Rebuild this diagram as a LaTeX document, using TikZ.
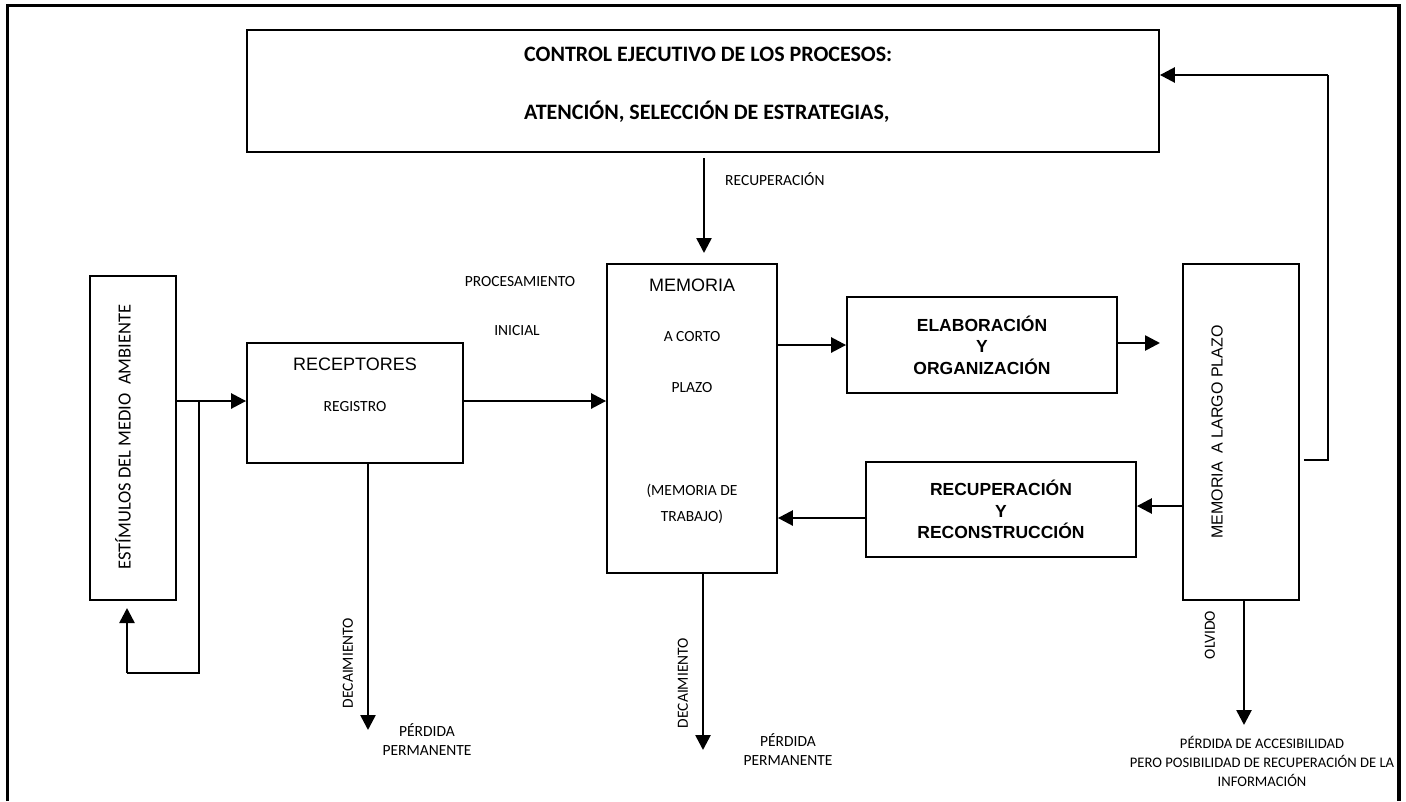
\documentclass[tikz,border=0pt]{standalone}
\usepackage{fontspec}
\setmainfont{Carlito}
\newfontfamily\arialf{Liberation Sans}
\usetikzlibrary{arrows.meta}
\newcommand\smtxt{\fontsize{15.5}{19}\selectfont}
\newcommand\bigarial{\arialf\fontsize{18}{22}\selectfont}
\newcommand\boldarial{\arialf\bfseries\fontsize{17.5}{21.5}\selectfont}
\begin{document}
\begin{tikzpicture}[x=1pt,y=-1pt,
  box/.style={draw, line width=1.8pt, inner sep=0pt},
  conn/.style={line width=2.6pt},
  arr/.style={line width=2.6pt, -{Triangle[length=15pt,width=15pt]}},
  lbl/.style={inner sep=0pt, font=\smtxt},
  ctrltxt/.style={inner sep=0pt, anchor=west, font=\bfseries\fontsize{22}{26}\selectfont},
  frame/.style={line width=3.8pt}]
\useasboundingbox (0,0) rectangle (1406,801);
% frame
\coordinate (f1) at (7.5,801);
\coordinate (f2) at (7.5,5.5);
\coordinate (f3) at (1399,5.5);
\coordinate (f4) at (1399,801);
\draw[frame] (f1) -- (f2) -- (f3) -- (f4);
% boxes
\node[box, minimum width=912pt, minimum height=122pt] (ctrl) at (703,91) {};
\node[box, minimum width=86pt, minimum height=324pt] (est) at (133,438) {};
\node[box, minimum width=216pt, minimum height=120pt] (rec) at (355,403) {};
\node[box, minimum width=170pt, minimum height=309pt] (mcp) at (692,418.5) {};
\node[box, minimum width=270pt, minimum height=96pt] (elab) at (982,345) {};
\node[box, minimum width=270pt, minimum height=95pt] (recon) at (1001,509.5) {};
\node[box, minimum width=116pt, minimum height=336pt] (mlp) at (1241,432) {};
% texts in boxes
\node[ctrltxt] (t1) at (524,54) {CONTROL EJECUTIVO DE LOS PROCESOS:};
\node[ctrltxt] (t2) at (524,112) {ATENCIÓN, SELECCIÓN DE ESTRATEGIAS,};
\node[inner sep=0pt, rotate=90, font=\fontsize{18.5}{22}\selectfont] (testm) at (123,437) {ESTÍMULOS DEL MEDIO\ \ AMBIENTE};
\node[inner sep=0pt, font=\bigarial] (trec) at (355,364) {RECEPTORES};
\node[lbl] (treg) at (355,407) {REGISTRO};
\node[inner sep=0pt, font=\bigarial] (tmem) at (692,285) {MEMORIA};
\node[lbl] (tac) at (692,337) {A CORTO};
\node[lbl] (tpl) at (692,388) {PLAZO};
\node[lbl] (tmd) at (692,491) {(MEMORIA DE};
\node[lbl] (ttr) at (692,517) {TRABAJO)};
\node[inner sep=0pt, font=\boldarial, align=center] (telab) at (elab.center) {ELABORACIÓN\\Y\\ORGANIZACIÓN};
\node[inner sep=0pt, font=\boldarial, align=center] (trecon) at (recon.center) {RECUPERACIÓN\\Y\\RECONSTRUCCIÓN};
\node[inner sep=0pt, rotate=90, font=\arialf\fontsize{16}{19}\selectfont] (tmlp) at (1217,432) {MEMORIA\ \ A LARGO PLAZO};
% free labels
\node[lbl, anchor=west] (lrecup) at (725,179) {RECUPERACIÓN};
\node[lbl] (lproc) at (520,282) {PROCESAMIENTO};
\node[lbl] (lini) at (517,331) {INICIAL};
\node[lbl, rotate=90] (ldec1) at (348,663) {DECAIMIENTO};
\node[lbl, align=center] (lper1) at (427,740) {PÉRDIDA\\PERMANENTE};
\node[lbl, rotate=90] (ldec2) at (683,683) {DECAIMIENTO};
\node[lbl, align=center] (lper2) at (788,750) {PÉRDIDA\\PERMANENTE};
\node[lbl, rotate=90] (lolv) at (1210,635) {OLVIDO};
\node[inner sep=0pt, align=center, font=\fontsize{14.6}{19}\selectfont] (lacc) at (1262,761) {PÉRDIDA DE ACCESIBILIDAD\\PERO POSIBILIDAD DE RECUPERACIÓN DE LA\\INFORMACIÓN};
% connectors
\coordinate (br) at (199,401);
\coordinate (brd) at (199,673);
\coordinate (brl) at (127,673);
\coordinate (brt) at (127,608);
\draw[arr] (est.east |- br) -- (rec.west |- br);
\draw[conn] (br) -- (brd) -- (brl);
\draw[arr] (brl) -- (brt);
\draw[arr] (rec.east |- br) -- (mcp.west |- br);
\coordinate (d1) at (368,730);
\draw[arr] (rec.south -| d1) -- (d1);
\coordinate (rt) at (704,253);
\coordinate (rs) at (704,158);
\draw[arr] (rs) -- (rt);
\coordinate (e1) at (0,345);
\draw[arr] (mcp.east |- e1) -- (elab.west |- e1);
\coordinate (e2) at (1160,343);
\draw[arr] (elab.east |- e2) -- (e2);
\coordinate (r1) at (0,506);
\draw[arr] (mlp.west |- r1) -- (recon.east |- r1);
\coordinate (r2) at (0,518);
\draw[arr] (recon.west |- r2) -- (mcp.east |- r2);
\coordinate (d2) at (703,750);
\draw[arr] (mcp.south -| d2) -- (d2);
\coordinate (d3) at (1244,725);
\draw[arr] (mlp.south -| d3) -- (d3);
\coordinate (fb1) at (1328,460);
\coordinate (fb2) at (1328,75);
\draw[conn] ([xshift=4pt]mlp.east |- fb1) -- (fb1) -- (fb2);
\draw[arr] (fb2) -- (ctrl.east |- fb2);
\end{tikzpicture}
\end{document}
